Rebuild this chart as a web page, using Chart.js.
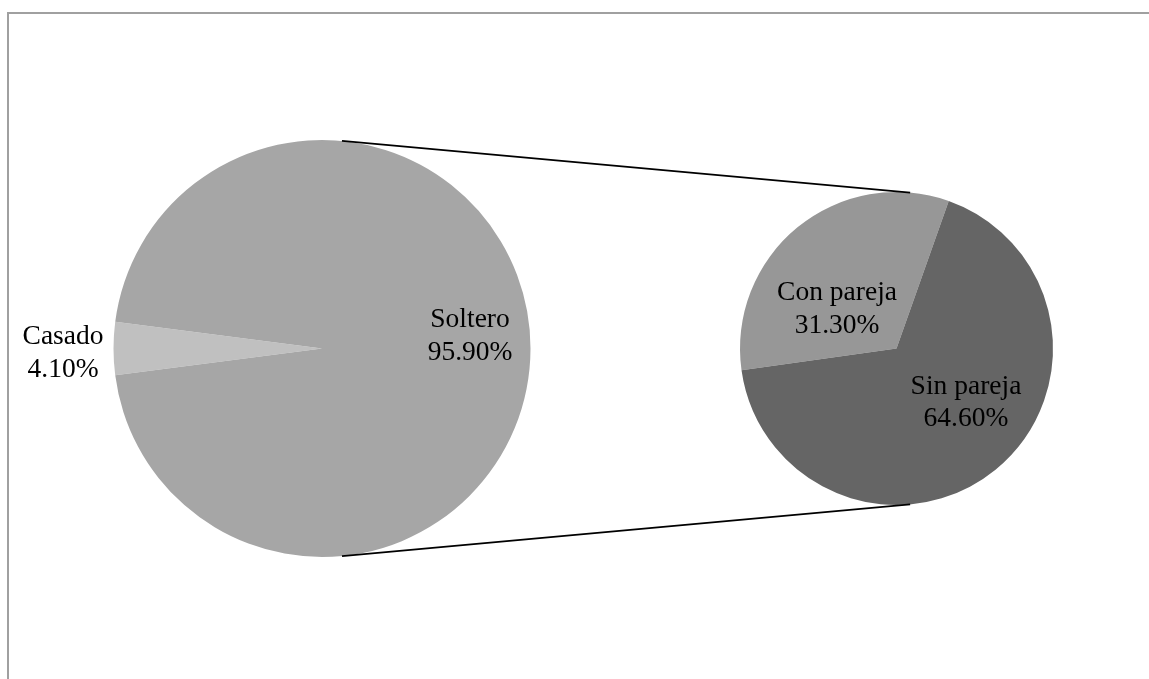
<!DOCTYPE html>
<html>
<head>
<meta charset="utf-8">
<script src="https://cdn.jsdelivr.net/npm/chart.js@4"></script>
<style>
  html, body { margin: 0; padding: 0; background: #fff; }
  #wrap { position: relative; width: 1149px; height: 679px; overflow: hidden; }
  #frame { position: absolute; left: 7px; top: 12px; right: -5px; bottom: -5px;
           border-top: 2px solid #a0a0a0; border-left: 2px solid #a0a0a0; }
  canvas { position: absolute; left: 0; top: 0; }
</style>
</head>
<body>
<div id="wrap">
  <div id="frame"></div>
  <canvas id="mainPie" width="1149" height="679"></canvas>
  <canvas id="subPie" width="1149" height="679"></canvas>
</div>
<script>
// datos
const mainLabels = ['Casado', 'Soltero'];
const mainValues = [4.1, 95.9];
const mainColors = ['#c0c0c0', '#a6a6a6'];

const subLabels = ['Con pareja', 'Sin pareja'];
const subValues = [31.3, 64.6];
const subColors = ['#979797', '#656565'];

const FONT = '27.5px "Liberation Serif"';

// etiquetas: posicion relativa al centro, en radios
const sliceLabels = {
  id: 'sliceLabels',
  afterDatasetsDraw(chart, args, opts) {
    const ctx = chart.ctx;
    const meta = chart.getDatasetMeta(0);
    const values = chart.data.datasets[0].data;
    ctx.save();
    ctx.font = FONT;
    ctx.fillStyle = '#000';
    ctx.textAlign = 'center';
    ctx.textBaseline = 'middle';
    meta.data.forEach((arc, i) => {
      const r = arc.outerRadius;
      const x = arc.x + opts.offsets[i][0] * r;
      const y = arc.y + opts.offsets[i][1] * r;
      ctx.fillText(chart.data.labels[i], x, y - opts.lineHeight / 2);
      ctx.fillText(values[i].toFixed(2) + '%', x, y + opts.lineHeight / 2);
    });
    ctx.restore();
  }
};

let mainChart;

// lineas que unen los dos graficos
const connectors = {
  id: 'connectors',
  afterDraw(chart) {
    if (!mainChart) return;
    const a = mainChart.getDatasetMeta(0).data[0];
    const b = chart.getDatasetMeta(0).data[0];
    const ctx = chart.ctx;
    const angA = 5.5 * Math.PI / 180, angB = 5 * Math.PI / 180;
    ctx.save();
    ctx.strokeStyle = '#000';
    ctx.lineWidth = 1.8;
    [-1, 1].forEach(s => {
      ctx.beginPath();
      ctx.moveTo(a.x + Math.sin(angA) * a.outerRadius, a.y + s * Math.cos(angA) * a.outerRadius);
      ctx.lineTo(b.x + Math.sin(angB) * b.outerRadius, b.y + s * Math.cos(angB) * b.outerRadius);
      ctx.stroke();
    });
    ctx.restore();
  }
};

const mainTotal = mainValues.reduce((s, v) => s + v, 0);

mainChart = new Chart(document.getElementById('mainPie'), {
  type: 'pie',
  data: {
    labels: mainLabels,
    datasets: [{ data: mainValues, backgroundColor: mainColors, borderWidth: 0 }]
  },
  options: {
    responsive: false,
    animation: false,
    rotation: 270 - (mainValues[0] / mainTotal) * 180,
    layout: { padding: { left: 113.5, top: 140, right: 618.5, bottom: 122 } },
    plugins: {
      legend: { display: false },
      tooltip: { enabled: false },
      sliceLabels: { offsets: [[-1.242, 0.022], [0.71, -0.058]], lineHeight: 32.5 }
    }
  },
  plugins: [sliceLabels]
});

new Chart(document.getElementById('subPie'), {
  type: 'pie',
  data: {
    labels: subLabels,
    datasets: [{ data: subValues, backgroundColor: subColors, borderWidth: 0 }]
  },
  options: {
    responsive: false,
    animation: false,
    rotation: 262,
    layout: { padding: { left: 740, top: 192, right: 96, bottom: 174 } },
    plugins: {
      legend: { display: false },
      tooltip: { enabled: false },
      sliceLabels: { offsets: [[-0.38, -0.252], [0.444, 0.348]], lineHeight: 32.5 }
    }
  },
  plugins: [sliceLabels, connectors]
});
</script>
</body>
</html>
